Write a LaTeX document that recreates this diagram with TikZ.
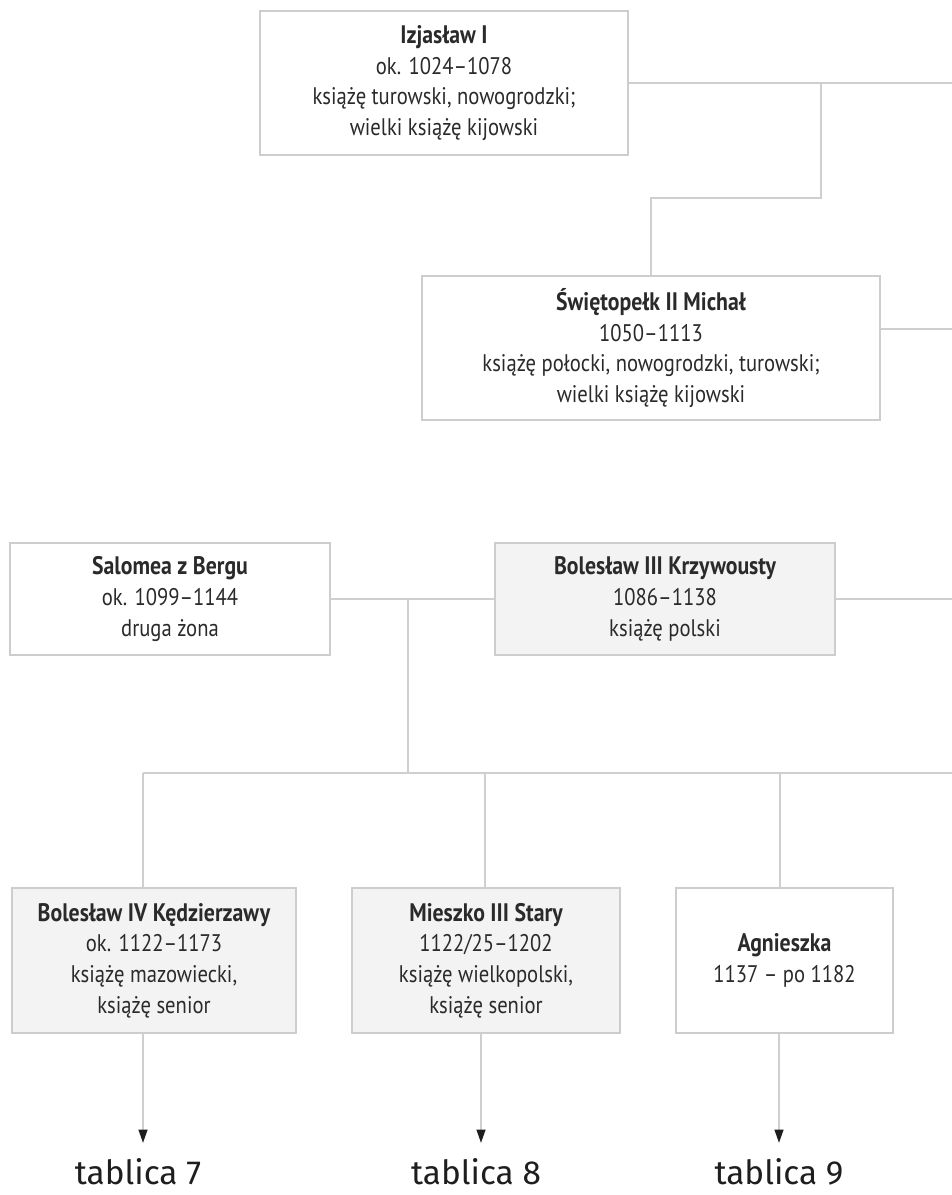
\documentclass[tikz,border=0pt]{standalone}
\usepackage{fontspec}
\setmainfont{PT Sans}[FakeStretch=0.86]
\newfontfamily\tabfont{Fira Sans}
\usetikzlibrary{arrows.meta}
\definecolor{boxline}{HTML}{CDCDCD}
\definecolor{wire}{HTML}{CFCFCF}
\definecolor{boxfill}{HTML}{F3F3F3}
\definecolor{txt}{HTML}{2A2A2A}
\definecolor{tip}{HTML}{1E1E1E}
\newdimen\px \px=0.75pt
\newcommand\who[1]{{\fontsize{19}{23}\selectfont\bfseries #1}}
\begin{document}
\begin{tikzpicture}[x=0.75pt,y=-0.75pt,
  person/.style={draw=boxline, line width=1.5pt, fill=white, inner sep=0pt,
    align=center, text=txt, font=\fontsize{18}{23}\selectfont},
  senior/.style={person, fill=boxfill},
  link/.style={draw=wire, line width=1.5pt},
  down/.style={link, -{Triangle[length=10pt, width=6.5pt, color=tip]}},
  tab/.style={font=\tabfont\fontsize{25}{28}\selectfont, text=tip, inner sep=0pt}]

% page frame
\path[use as bounding box, fill=white] (0,0) rectangle (952,1195);

% generation of Izjasław
\node[person, minimum width=368\px, minimum height=144\px] (izj) at (444,83)
  {\who{Izjasław I}\\ok. 1024–1078\\książę turowski, nowogrodzki;\\wielki książę kijowski};
\node[person, minimum width=458\px, minimum height=144\px] (swi) at (651,348)
  {\who{Świętopełk II Michał}\\1050–1113\\książę połocki, nowogrodzki, turowski;\\wielki książę kijowski};

\coordinate (izjR) at (952,83);
\coordinate (izjJ) at (821,83);
\coordinate (swiJ) at (651,198);
\draw[link] (izj.east) -- (izjR);
\draw[link] (izjJ) |- (swiJ) -- (swi.north);
\coordinate (swiR) at (952,329);
\draw[link] (swi.east |- swiR) -- (swiR);

% Bolesław III and Salomea
\node[person, minimum width=320\px, minimum height=112\px] (sal) at (170,599)
  {\who{Salomea z Bergu}\\ok. 1099–1144\\druga żona};
\node[senior, minimum width=340\px, minimum height=112\px] (bol) at (665,599)
  {\who{Bolesław III Krzywousty}\\1086–1138\\książę polski};
\draw[link] (sal.east) -- (bol.west);
\coordinate (bolR) at (952,599);
\draw[link] (bol.east) -- (bolR);

\coordinate (mar) at (408,599);
\coordinate (bar) at (408,773);
\coordinate (barL) at (143,773);
\coordinate (barR) at (952,773);
\draw[link] (mar) -- (bar);
\draw[link] (barL) -- (barR);

% children
\node[senior, minimum width=284\px, minimum height=145\px] (b4) at (154,960.5)
  {\who{Bolesław IV Kędzierzawy}\\ok. 1122–1173\\książę mazowiecki,\\książę senior};
\node[senior, minimum width=268\px, minimum height=145\px] (m3) at (486,960.5)
  {\who{Mieszko III Stary}\\1122/25–1202\\książę wielkopolski,\\książę senior};
\node[person, minimum width=217\px, minimum height=145\px] (agn) at (784.5,960.5)
  {\who{Agnieszka}\\1137 – po 1182};

\coordinate (c4) at (143,773);
\coordinate (c8) at (485,773);
\coordinate (c9) at (780,773);
\draw[link] (c4) -- (c4 |- b4.north);
\draw[link] (c8) -- (c8 |- m3.north);
\draw[link] (c9) -- (c9 |- agn.north);

% references to further tables
\coordinate (a7) at (143,1143);
\coordinate (a8) at (481,1143);
\coordinate (a9) at (779,1143);
\draw[down] (a7 |- b4.south) -- (a7);
\draw[down] (a8 |- m3.south) -- (a8);
\draw[down] (a9 |- agn.south) -- (a9);

\node[tab] (t7) at (138,1172) {tablica 7};
\node[tab] (t8) at (476,1172) {tablica 8};
\node[tab] (t9) at (779,1172) {tablica 9};
\end{tikzpicture}
\end{document}
